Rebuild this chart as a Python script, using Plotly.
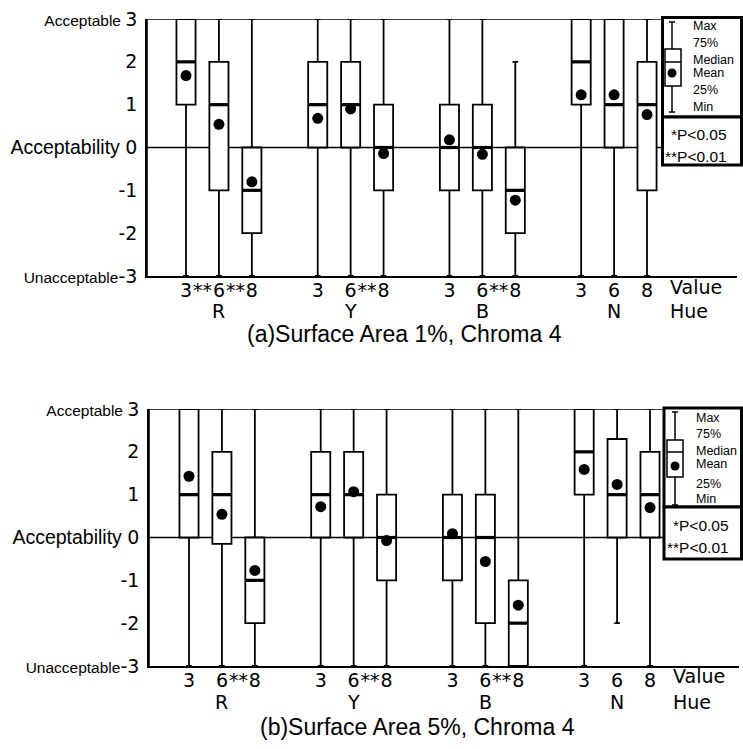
import plotly.graph_objects as go

# ---------------- data ----------------
hues = ["R", "Y", "B", "N"]
values = ["3", "6", "8"]

# panel (a) Surface Area 1%, Chroma 4
a_min = [-3, -3, -3, -3, -3, -3, -3, -3, -3, -3, -3, -3]
a_q1 = [1, -1, -2, 0, 0, -1, -1, -1, -2, 1, 0, -1]
a_med = [2, 1, -1, 1, 1, 0, 0, 0, -1, 2, 1, 1]
a_q3 = [3, 2, 0, 2, 2, 1, 1, 1, 0, 3, 3, 2]
a_max = [3, 3, 3, 3, 3, 3, 3, 3, 2, 3, 3, 3]
a_mean = [1.68, 0.54, -0.80, 0.68, 0.90, -0.14, 0.18, -0.16, -1.23, 1.23, 1.23, 0.77]
a_sig_36 = ["**", "", "", ""]
a_sig_68 = ["**", "**", "**", ""]

# panel (b) Surface Area 5%, Chroma 4
b_min = [-3, -3, -3, -3, -3, -3, -3, -3, -3, -3, -2, -3]
b_q1 = [0, -0.15, -2, 0, 0, -1, -1, -2, -3, 1, 0, 0]
b_med = [1, 1, -1, 1, 1, 0, 0, 0, -2, 2, 1, 1]
b_q3 = [3, 2, 0, 2, 2, 1, 1, 1, -1, 3, 2.3, 2]
b_max = [3, 3, 3, 3, 3, 3, 3, 3, 3, 3, 3, 3]
b_mean = [1.43, 0.54, -0.77, 0.72, 1.07, -0.07, 0.09, -0.56, -1.58, 1.59, 1.24, 0.70]
b_sig_36 = ["", "", "", ""]
b_sig_68 = ["**", "**", "**", ""]

titles = ["(a)Surface Area 1%, Chroma 4", "(b)Surface Area 5%, Chroma 4"]
y_vals = [-3, -2, -1, 0, 1, 2, 3]
y_words = {3: "Acceptable ", 0: "Acceptability ", -3: "Unacceptable"}
legend_labels = ["Max", "75%", "Median", "Mean", "25%", "Min"]
p_labels = ["*P<0.05", "**P<0.01"]

# ---------------- layout helpers ----------------
W, H = 743, 749
def PX(x):
    return x / W
def PY(y):
    return 1 - y / H

UNIT = 32.93
BOXW = 0.58
NUM_FONT = "DejaVu Sans"
TXT_FONT = "Liberation Sans, Arial"

positions = []
for gi in range(len(hues)):
    for vi in range(len(values)):
        positions.append(gi * 4 + vi)

panels = [
    dict(mn=a_min, q1=a_q1, med=a_med, q3=a_q3, mx=a_max, mean=a_mean,
         s36=a_sig_36, s68=a_sig_68,
         left=147, right=737, top=19, bottom=276, x0=186, legx=661,
         lab_y=287, hue_y=311, title_y=334, title_x=404, vx=668,
         leg=dict(x0=662.5, x1=741.5, y0=17.5, ymid=117, y1=165,
                  wx=672, wt=22, wb=112, bx0=665, bx1=681, bt=49, bb=86, bm=62, dy=73,
                  tx=691, ty=[26, 43, 60, 73, 90, 107], px=729, py=[135, 156])),
    dict(mn=b_min, q1=b_q1, med=b_med, q3=b_q3, mx=b_max, mean=b_mean,
         s36=b_sig_36, s68=b_sig_68,
         left=149, right=739, top=409, bottom=666, x0=189, legx=663,
         lab_y=676, hue_y=702, title_y=727, title_x=417, vx=671,
         leg=dict(x0=664, x1=741.5, y0=408, ymid=507, y1=559,
                  wx=675, wt=412, wb=505, bx0=667, bx1=683, bt=440, bb=477, bm=452, dy=466,
                  tx=694, ty=[418, 434, 451, 464, 484, 499], px=731, py=[525, 547])),
]

fig = go.Figure()
shapes = []
annotations = []
layout_axes = {}

for k, p in enumerate(panels):
    xa = "x" if k == 0 else "x2"
    ya = "y" if k == 0 else "y2"
    xname = "xaxis" if k == 0 else "xaxis2"
    yname = "yaxis" if k == 0 else "yaxis2"

    fig.add_trace(go.Box(
        x=positions, q1=p["q1"], median=p["med"], q3=p["q3"],
        lowerfence=p["mn"], upperfence=p["mx"],
        width=BOXW, whiskerwidth=0.3, boxpoints=False,
        fillcolor="white", line=dict(color="black", width=1.8),
        xaxis=xa, yaxis=ya, showlegend=False, hoverinfo="skip"))

    mx_, my_ = [], []
    for pos, m in zip(positions, p["med"]):
        mx_ += [pos - BOXW / 2, pos + BOXW / 2, None]
        my_ += [m, m, None]
    fig.add_trace(go.Scatter(x=mx_, y=my_, mode="lines",
                             line=dict(color="black", width=3.2),
                             xaxis=xa, yaxis=ya, showlegend=False, hoverinfo="skip"))
    fig.add_trace(go.Scatter(x=positions, y=p["mean"], mode="markers",
                             marker=dict(color="black", size=11),
                             xaxis=xa, yaxis=ya, showlegend=False, hoverinfo="skip"))

    # x ticks: values + significance marks
    tv, tt = [], []
    for gi in range(len(hues)):
        base = gi * 4
        for vi, v in enumerate(values):
            tv.append(base + vi)
            tt.append(v)
        if p["s36"][gi]:
            tv.append(base + 0.5); tt.append(p["s36"][gi])
        if p["s68"][gi]:
            tv.append(base + 1.5); tt.append(p["s68"][gi])

    xr0 = (p["left"] - p["x0"]) / UNIT
    xr1 = (p["right"] - p["x0"]) / UNIT
    layout_axes[xname] = dict(
        domain=[PX(p["left"]), PX(p["right"])], range=[xr0, xr1], anchor=ya,
        showgrid=False, zeroline=False, showline=True, linecolor="black", linewidth=1.6,
        tickvals=tv, ticktext=tt, ticks="", tickangle=0, automargin=False,
        tickfont=dict(family=NUM_FONT, size=19, color="black"),
        ticklabelstandoff=-4, fixedrange=True)

    ytt = []
    for v in y_vals:
        word = y_words.get(v, "")
        if word:
            fs = 19.5 if v == 0 else 15.5
            ytt.append(f"<span style='font-family:Liberation Sans;font-size:{fs}px'>{word}</span>{v}")
        else:
            ytt.append(str(v))
    layout_axes[yname] = dict(
        domain=[PY(p["bottom"]), PY(p["top"])], range=[-3, 3], anchor=xa,
        showgrid=False, zeroline=False, showline=True, linecolor="black", linewidth=1.6,
        tickvals=y_vals, ticktext=ytt, ticks="", ticklabelstandoff=4, automargin=False,
        tickfont=dict(family=NUM_FONT, size=19, color="black"), fixedrange=True)

    # left axis, top line and zero line up to legend box
    frac = (p["legx"] - p["left"]) / (p["right"] - p["left"])
    dom = xa + " domain"
    shapes.append(dict(type="line", xref=dom, yref=ya, x0=0, x1=0, y0=-3, y1=3,
                       line=dict(color="black", width=1.6)))
    shapes.append(dict(type="line", xref=dom, yref=ya, x0=0, x1=frac, y0=3, y1=3,
                       line=dict(color="black", width=1.6)))
    shapes.append(dict(type="line", xref=dom, yref=ya, x0=0, x1=frac, y0=0, y1=0,
                       line=dict(color="black", width=1.6), layer="below"))

    # hue labels
    for gi, h in enumerate(hues):
        annotations.append(dict(x=gi * 4 + 1, xref=xa, y=PY(p["hue_y"]), yref="paper",
                                text=h, showarrow=False, xanchor="center", yanchor="middle",
                                font=dict(family=NUM_FONT, size=19, color="black")))
    annotations.append(dict(x=PX(p["vx"]), xref="paper", y=PY(p["lab_y"]), yref="paper",
                            text="Value", showarrow=False, xanchor="left", yanchor="middle",
                            font=dict(family=NUM_FONT, size=19, color="black")))
    annotations.append(dict(x=PX(p["vx"]), xref="paper", y=PY(p["hue_y"]), yref="paper",
                            text="Hue", showarrow=False, xanchor="left", yanchor="middle",
                            font=dict(family=NUM_FONT, size=19, color="black")))
    annotations.append(dict(x=PX(p["title_x"]), xref="paper", y=PY(p["title_y"]), yref="paper",
                            text=titles[k], showarrow=False, xanchor="center", yanchor="middle",
                            font=dict(family=TXT_FONT, size=23, color="black")))

    # legend key box
    L = p["leg"]
    shapes.append(dict(type="rect", xref="paper", yref="paper",
                       x0=PX(L["x0"]), x1=PX(L["x1"]), y0=PY(L["y0"]), y1=PY(L["ymid"]),
                       line=dict(color="black", width=3), fillcolor="white"))
    shapes.append(dict(type="rect", xref="paper", yref="paper",
                       x0=PX(L["x0"]), x1=PX(L["x1"]), y0=PY(L["ymid"]), y1=PY(L["y1"]),
                       line=dict(color="black", width=3), fillcolor="white"))
    shapes.append(dict(type="line", xref="paper", yref="paper",
                       x0=PX(L["wx"]), x1=PX(L["wx"]), y0=PY(L["wt"]), y1=PY(L["wb"]),
                       line=dict(color="black", width=1.5)))
    for yy in (L["wt"], L["wb"]):
        shapes.append(dict(type="line", xref="paper", yref="paper",
                           x0=PX(L["wx"] - 3), x1=PX(L["wx"] + 3), y0=PY(yy), y1=PY(yy),
                           line=dict(color="black", width=1.5)))
    shapes.append(dict(type="rect", xref="paper", yref="paper",
                       x0=PX(L["bx0"]), x1=PX(L["bx1"]), y0=PY(L["bt"]), y1=PY(L["bb"]),
                       line=dict(color="black", width=1.5), fillcolor="white"))
    shapes.append(dict(type="line", xref="paper", yref="paper",
                       x0=PX(L["bx0"]), x1=PX(L["bx1"]), y0=PY(L["bm"]), y1=PY(L["bm"]),
                       line=dict(color="black", width=1.5)))
    shapes.append(dict(type="circle", xref="paper", yref="paper",
                       x0=PX(L["wx"] - 4.5), x1=PX(L["wx"] + 4.5),
                       y0=PY(L["dy"] - 4.5), y1=PY(L["dy"] + 4.5),
                       line=dict(color="black", width=0), fillcolor="black"))
    for lab, yy in zip(legend_labels, L["ty"]):
        annotations.append(dict(x=PX(L["tx"]), xref="paper", y=PY(yy), yref="paper",
                                text=lab, showarrow=False, xanchor="left", yanchor="middle",
                                font=dict(family=TXT_FONT, size=12.5, color="black")))
    for lab, yy in zip(p_labels, L["py"]):
        annotations.append(dict(x=PX(L["px"]), xref="paper", y=PY(yy), yref="paper",
                                text=lab, showarrow=False, xanchor="right", yanchor="middle",
                                font=dict(family=TXT_FONT, size=15.5, color="black")))

fig.update_layout(
    width=W, height=H, margin=dict(l=0, r=0, t=0, b=0, autoexpand=False),
    paper_bgcolor="white", plot_bgcolor="white",
    showlegend=False, shapes=shapes, annotations=annotations,
    **layout_axes)

fig.write_html("out.html", config={"displayModeBar": False},
               post_script="document.body.style.margin='0';document.body.style.overflow='hidden';")
